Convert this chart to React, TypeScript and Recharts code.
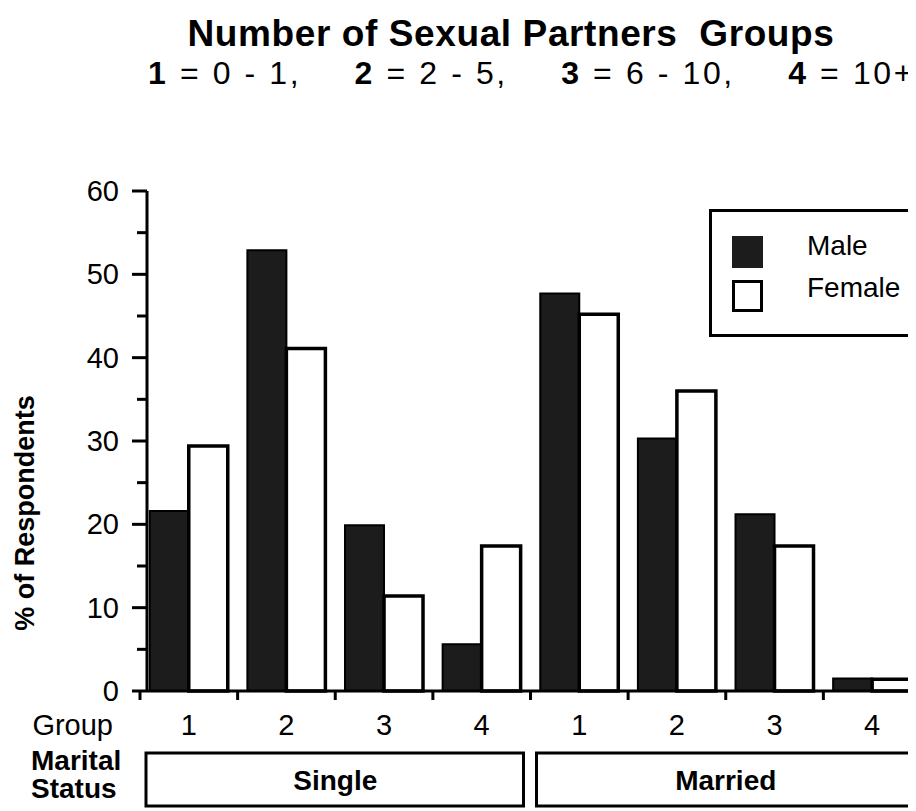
import { Bar, BarChart, Legend, XAxis, YAxis } from "recharts";

const FONT = "'Liberation Sans', Arial, Helvetica, sans-serif";

// marital status / partner group of each category, left to right
const STATUS = ["Single", "Single", "Single", "Single", "Married", "Married", "Married", "Married"];
const GROUPS = ["1", "2", "3", "4", "1", "2", "3", "4"];

// % of respondents
const MALE = [21.6, 52.9, 19.9, 5.6, 47.7, 30.3, 21.2, 1.5];
const FEMALE = [29.4, 41.1, 11.4, 17.4, 45.2, 36.0, 17.4, 1.4];

const SERIES = ["Male", "Female"];
const Y_TICKS = [0, 5, 10, 15, 20, 25, 30, 35, 40, 45, 50, 55, 60];

// subtitle: group number and number-of-partners range
const GROUP_KEY = [
  ["1", "0 - 1,"],
  ["2", "2 - 5,"],
  ["3", "6 - 10,"],
  ["4", "10+"],
];

const data = GROUPS.map((g, i) => ({
  key: `${STATUS[i]}-${g}`,
  status: STATUS[i],
  male: MALE[i],
  female: FEMALE[i],
}));

function YTick(props: any) {
  const { x, y, payload } = props;
  const v = payload.value as number;
  const major = v % 10 === 0;
  const axisX = x + 28;
  return (
    <g>
      <line x1={axisX - (major ? 15 : 10)} x2={axisX} y1={y} y2={y} stroke="#000" strokeWidth={3} />
      {major && (
        <text x={x} y={y + 10} textAnchor="end" fontSize={29} fontFamily={FONT} fill="#000">
          {v}
        </text>
      )}
    </g>
  );
}

function GroupTick(props: any) {
  const { x, y, payload } = props;
  const half = typeof payload?.offset === "number" && payload.offset > 0 ? payload.offset : 48.8;
  const label = String(payload.value).split("-")[1];
  return (
    <g>
      <line x1={x - half} x2={x - half} y1={y} y2={y + 9} stroke="#000" strokeWidth={3} />
      <text x={x} y={y + 44} textAnchor="middle" fontSize={29} fontFamily={FONT} fill="#000">
        {label}
      </text>
    </g>
  );
}

function StatusTick(props: any) {
  const { x, y, payload } = props;
  const half = typeof payload?.offset === "number" && payload.offset > 0 ? payload.offset : 195;
  return (
    <g>
      <rect x={x - half + 6} y={y + 4} width={half * 2 - 13} height={53} fill="#fff" stroke="#000" strokeWidth={3} />
      <text x={x} y={y + 41} textAnchor="middle" fontSize={28} fontWeight="bold" fontFamily={FONT} fill="#000">
        {payload.value}
      </text>
    </g>
  );
}

function LegendBox(props: any) {
  const items = [...((props.payload || []) as any[])].sort(
    (a, b) => SERIES.indexOf(a.value) - SERIES.indexOf(b.value)
  );
  return (
    <div
      style={{
        position: "relative",
        width: 240,
        height: 122,
        border: "3px solid #000",
        background: "#fff",
        fontFamily: FONT,
      }}
    >
      {items.map((it, i) => {
        const hollow = it.color === "#fff";
        return (
          <div key={it.value}>
            <div
              style={{
                position: "absolute",
                left: 20,
                top: 24 + i * 44,
                width: hollow ? 25 : 31,
                height: hollow ? 26 : 32,
                background: it.color,
                border: hollow ? "3px solid #000" : "none",
              }}
            />
            <div
              style={{
                position: "absolute",
                left: 95,
                top: 18 + i * 42,
                fontSize: 28,
                lineHeight: "32px",
                color: "#000",
              }}
            >
              {it.value}
            </div>
          </div>
        );
      })}
    </div>
  );
}

export default function App() {
  return (
    <div style={{ position: "relative", width: 908, height: 803, overflow: "hidden", background: "#fff" }}>
      <div
        style={{
          position: "absolute",
          left: 0,
          width: 1006,
          top: 8,
          textAlign: "center",
          fontFamily: FONT,
          fontWeight: "bold",
          fontSize: 37,
          lineHeight: "36px",
          letterSpacing: 0.6,
          whiteSpace: "pre",
        }}
      >
        {"Number of Sexual Partners  Groups"}
      </div>
      <div
        style={{
          position: "absolute",
          left: 140,
          top: 49,
          width: 767,
          display: "flex",
          justifyContent: "space-between",
          fontFamily: FONT,
          fontSize: 32,
          lineHeight: "32px",
          letterSpacing: 2.6,
          whiteSpace: "pre",
        }}
      >
        {GROUP_KEY.map(([n, range]) => (
          <span key={n}>
            <b>{n}</b>
            {` = ${range}`}
          </span>
        ))}
      </div>
      <BarChart
        width={913}
        height={803}
        data={data}
        margin={{ top: 183, right: 0, bottom: 0, left: 0 }}
        barCategoryGap="10%"
        barGap={0}
        style={{ position: "absolute", left: 0, top: 0 }}
      >
        <XAxis
          dataKey="key"
          height={58}
          padding={{ left: -7, right: 0 }}
          axisLine={{ stroke: "#000", strokeWidth: 3 }}
          tickLine={false}
          tickSize={0}
          tickMargin={0}
          interval={0}
          tick={<GroupTick />}
          label={(p: any) => (
            <text
              x={p.viewBox.x - 34}
              y={p.viewBox.y + 44}
              textAnchor="end"
              fontSize={29}
              fontFamily={FONT}
              fill="#000"
            >
              Group
            </text>
          )}
        />
        <XAxis
          xAxisId="status"
          dataKey="status"
          allowDuplicatedCategory={false}
          height={62}
          padding={{ left: -7, right: 0 }}
          axisLine={false}
          tickLine={false}
          tickSize={0}
          tickMargin={0}
          interval={0}
          tick={<StatusTick />}
          label={(p: any) => (
            <text fontSize={28} fontWeight="bold" fontFamily={FONT} fill="#000">
              <tspan x={p.viewBox.x - 116} y={p.viewBox.y + 21}>
                Marital
              </tspan>
              <tspan x={p.viewBox.x - 116} y={p.viewBox.y + 49}>
                Status
              </tspan>
            </text>
          )}
        />
        <YAxis
          width={139}
          domain={[0, 60]}
          ticks={Y_TICKS}
          interval={0}
          axisLine={{ stroke: "#000", strokeWidth: 3 }}
          tickLine={false}
          tickSize={15}
          tickMargin={13}
          tick={<YTick />}
          label={(p: any) => {
            const cx = 26;
            const cy = p.viewBox.y + p.viewBox.height / 2 + 72;
            return (
              <text
                x={cx}
                y={cy}
                transform={`rotate(-90, ${cx}, ${cy})`}
                textAnchor="middle"
                fontSize={27}
                fontWeight="bold"
                fontFamily={FONT}
                fill="#000"
              >
                % of Respondents
              </text>
            );
          }}
        />
        <Legend
          layout="vertical"
          align="center"
          verticalAlign="middle"
          wrapperStyle={{ position: "absolute", top: 201, left: 701, width: 240 }}
          content={<LegendBox />}
        />
        <Bar dataKey="male" name="Male" fill="#1c1c1c" stroke="#000" strokeWidth={2} isAnimationActive={false} />
        <Bar dataKey="female" name="Female" fill="#fff" stroke="#000" strokeWidth={3.5} isAnimationActive={false} />
      </BarChart>
    </div>
  );
}
